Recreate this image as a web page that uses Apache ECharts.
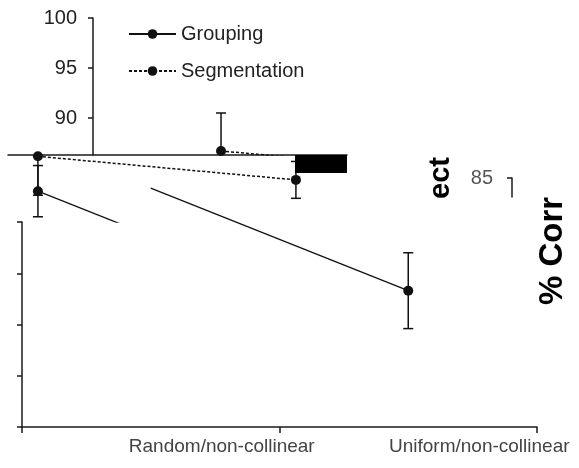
<!DOCTYPE html>
<html>
<head>
<meta charset="utf-8">
<script src="https://cdn.jsdelivr.net/npm/echarts@6/dist/echarts.min.js"></script>
<style>
html,body{margin:0;padding:0;background:#fff;}
#c{width:579px;height:468px;}
</style>
</head>
<body>
<div id="c"></div>
<script>
const categories = ['Random/non-collinear', 'Uniform/non-collinear'];
const grouping = [83.3, 73.3];
const groupingErr = [2.5, 3.7];
const segmentation = [86.7, 84.4];
const segmentationErr = [3.8, 1.8];
const topTicks = [90, 95, 100];
const sideTicks = [85];
const bottomTicks = [60, 65, 70, 75, 80];

const FONT = '"Liberation Sans", Arial, sans-serif';
const INK = '#111';

function pts(vals) { return vals.map((v, i) => [i, v]); }
function errData(vals, errs) { return vals.map((v, i) => [i, v - errs[i], v + errs[i]]); }

function errRender(params, api) {
  const x = api.value(0), lo = api.value(1), hi = api.value(2);
  const a = api.coord([x, hi]), b = api.coord([x, lo]);
  const cap = 5;
  const st = { stroke: INK, lineWidth: 1.5 };
  return { type: 'group', children: [
    { type: 'line', shape: { x1: a[0], y1: a[1], x2: b[0], y2: b[1] }, style: st },
    { type: 'line', shape: { x1: a[0] - cap, y1: a[1], x2: a[0] + cap, y2: a[1] }, style: st },
    { type: 'line', shape: { x1: b[0] - cap, y1: b[1], x2: b[0] + cap, y2: b[1] }, style: st }
  ]};
}

function lineSeries(name, vals, xi, yi, dotted, extra) {
  return Object.assign({
    type: 'line', name: name, data: xi === 2 ? vals.slice() : pts(vals),
    xAxisIndex: xi, yAxisIndex: yi,
    symbol: 'circle', symbolSize: 10,
    itemStyle: { color: INK },
    lineStyle: { color: INK, width: dotted ? 1.5 : 1.3, type: dotted ? [3, 2] : 'solid' },
    clip: true, animation: false, z: 3
  }, extra || {});
}
function errSeries(vals, errs, xi, yi) {
  return { type: 'custom', name: 'err', renderItem: errRender, data: errData(vals, errs),
    xAxisIndex: xi, yAxisIndex: yi, clip: true, animation: false, z: 2, silent: true };
}

const axisLineStyle = { color: '#1a1a1a', width: 1.5 };

const chart = echarts.init(document.getElementById('c'), null, { renderer: 'canvas' });
chart.setOption({
  backgroundColor: '#fff',
  animation: false,
  textStyle: { fontFamily: FONT },
  legend: {
    data: ['Grouping', 'Segmentation'], orient: 'vertical', left: 123, top: 19,
    itemWidth: 47, itemHeight: 12, itemGap: 17,
    textStyle: { fontSize: 20, color: '#222', fontFamily: FONT }
  },
  grid: [
    { left: 8, top: 18, width: 339, height: 137, outerBoundsMode: 'none' },
    { left: 8, top: 155, width: 339, height: 67, outerBoundsMode: 'none' },
    { left: 22, top: 222, width: 515, height: 205, outerBoundsMode: 'none' },
    { left: 93, top: 222, width: 515, height: 205, outerBoundsMode: 'none' },
    { left: 512, top: 178, width: 20, height: 19, outerBoundsMode: 'none' }
  ],
  xAxis: [
    { gridIndex: 0, type: 'value', min: -0.827, max: 0.489, axisLine: { show: true, onZero: false, lineStyle: axisLineStyle },
      axisTick: { show: false }, axisLabel: { show: false }, splitLine: { show: false } },
    { gridIndex: 1, type: 'value', min: -0.116, max: 1.198, show: false },
    { gridIndex: 2, type: 'category', data: categories, boundaryGap: true,
      axisLine: { show: true, onZero: false, lineStyle: axisLineStyle },
      axisTick: { show: true, length: 6, lineStyle: axisLineStyle },
      axisLabel: { show: false }, splitLine: { show: false } },
    { gridIndex: 3, type: 'category', data: categories, boundaryGap: true,
      axisLine: { show: false }, axisTick: { show: false },
      axisLabel: { show: true, fontSize: 19, color: '#444', margin: 10, fontFamily: FONT } },
    { gridIndex: 4, type: 'value', show: false }
  ],
  yAxis: [
    { gridIndex: 0, type: 'value', min: 86.3, max: 100, offset: -85,
      axisLine: { show: true, onZero: false, lineStyle: axisLineStyle },
      axisTick: { show: true, length: 5, lineStyle: axisLineStyle, customValues: topTicks },
      axisLabel: { show: true, fontSize: 20, color: '#222', margin: 16, customValues: topTicks, fontFamily: FONT },
      splitLine: { show: false } },
    { gridIndex: 1, type: 'value', min: 80.29, max: 86.83, show: false },
    { gridIndex: 2, type: 'value', min: 60, max: 80, interval: 5,
      axisLine: { show: true, onZero: false, lineStyle: axisLineStyle },
      axisTick: { show: true, length: 5, lineStyle: axisLineStyle, customValues: bottomTicks },
      axisLabel: { show: false }, splitLine: { show: false } },
    { gridIndex: 3, type: 'value', show: false },
    { gridIndex: 4, type: 'value', min: 83.1, max: 85,
      axisLine: { show: true, onZero: false, lineStyle: axisLineStyle },
      axisTick: { show: true, length: 5, lineStyle: axisLineStyle, customValues: sideTicks },
      axisLabel: { show: true, fontSize: 20, color: '#555', margin: 19, customValues: sideTicks, fontFamily: FONT },
      splitLine: { show: false } }
  ],
  series: [
    lineSeries('Grouping', grouping, 0, 0, false),
    lineSeries('Segmentation', segmentation, 0, 0, true),
    errSeries(segmentation, segmentationErr, 0, 0),
    errSeries(grouping, groupingErr, 0, 0),
    lineSeries('Grouping', grouping, 1, 1, false),
    lineSeries('Segmentation', segmentation, 1, 1, true),
    errSeries(segmentation, segmentationErr, 1, 1),
    errSeries(grouping, groupingErr, 1, 1),
    lineSeries('Grouping', grouping, 2, 2, false, {
      clip: false,
      symbolSize: function (v, p) { return p.dataIndex === 0 ? 0 : 10; }
    }),
    errSeries(grouping, groupingErr, 2, 2)
  ],
  graphic: [
    { type: 'rect', z: 100, shape: { x: 295, y: 155, width: 52, height: 18 }, style: { fill: '#000' } },
    { type: 'text', z: 100, x: 441, y: 178, rotation: Math.PI / 2,
      style: { text: 'ect', font: 'bold 29px ' + FONT, fill: '#000', align: 'center', verticalAlign: 'middle' } },
    { type: 'text', z: 100, x: 553, y: 251, rotation: Math.PI / 2,
      style: { text: '% Corr', font: 'bold 33px ' + FONT, fill: '#000', align: 'center', verticalAlign: 'middle' } }
  ]
});
</script>
</body>
</html>
